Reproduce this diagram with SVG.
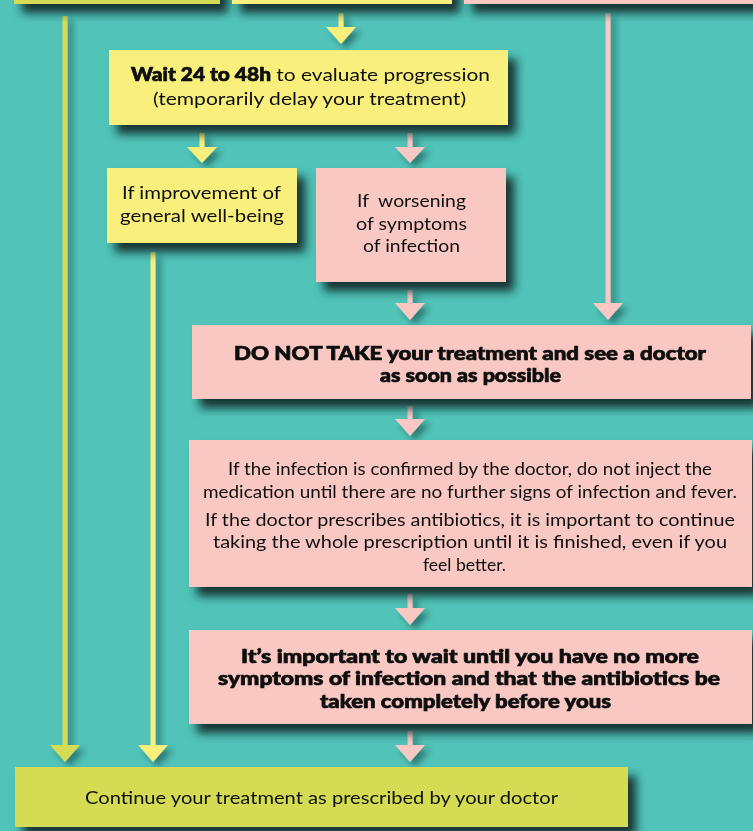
<svg xmlns="http://www.w3.org/2000/svg" width="753" height="831" viewBox="0 0 753 831">
<defs>
<filter id="sh" x="-20%" y="-20%" width="150%" height="160%">
<feDropShadow dx="8" dy="9" stdDeviation="5" flood-color="#0d2221" flood-opacity="0.9"/>
</filter>
<filter id="shl" x="-200%" y="-5%" width="500%" height="115%">
<feDropShadow dx="5" dy="5" stdDeviation="3" flood-color="#0d2221" flood-opacity="0.45"/>
</filter>
</defs>
<style>
.y{fill:#f9ef7b}
.p{fill:#f9c8c3}
.l{fill:#d5db52}
text{font-family:Lato,"Open Sans","Liberation Sans",sans-serif;font-size:18px;fill:#111;text-anchor:middle}
.b{font-weight:900;stroke:#111;stroke-width:0.7}
</style>
<rect x="0" y="0" width="753" height="831" fill="#51c3b8"/>

<g id="connectors" filter="url(#shl)">
<g class="y">
<path d="M338.5 13h5v14h12.5l-15 17l-15-17h12.5z"/>
<path d="M199.5 133h5v14h12.5l-15 16l-15-16h12.5z"/>
<path d="M150.5 252h5v493h12.5l-15 17l-15-17h12.5z"/>
</g>
<g class="l">
<path d="M62.5 16h5v729h12.5l-15 17l-15-17h12.5z"/>
</g>
<g class="p">
<path d="M407.5 133h5v14h12.5l-15 16l-15-16h12.5z"/>
<path d="M407.5 290h5v13h12.5l-15 17l-15-17h12.5z"/>
<path d="M605.5 13h5v290h12.5l-15 17l-15-17h12.5z"/>
<path d="M407.5 406h5v13h12.5l-15 17l-15-17h12.5z"/>
<path d="M407.5 594h5v14h12.5l-15 17l-15-17h12.5z"/>
<path d="M407.5 731h5v14h12.5l-15 17l-15-17h12.5z"/>
</g>
</g>

<g id="top-left" filter="url(#sh)"><rect class="l" x="14" y="-40" width="206" height="44"/></g>
<g id="top-middle" filter="url(#sh)"><rect class="y" x="232" y="-40" width="220" height="44"/></g>
<g id="top-right" filter="url(#sh)"><rect class="p" x="464" y="-40" width="300" height="44"/></g>

<g id="wait" filter="url(#sh)">
<rect class="y" x="109" y="50" width="399" height="75"/>
<text x="310.5" y="81" textLength="359" lengthAdjust="spacingAndGlyphs"><tspan class="b">Wait 24 to 48h</tspan> to evaluate progression</text>
<text x="309.5" y="105" textLength="313" lengthAdjust="spacingAndGlyphs">(temporarily delay your treatment)</text>
</g>

<g id="improvement" filter="url(#sh)">
<rect class="y" x="107" y="168" width="190" height="75"/>
<text x="201.5" y="199" textLength="159" lengthAdjust="spacingAndGlyphs">If improvement of</text>
<text x="202" y="222" textLength="164" lengthAdjust="spacingAndGlyphs">general well-being</text>
</g>

<g id="worsening" filter="url(#sh)">
<rect class="p" x="316" y="168" width="190" height="114"/>
<text x="411.5" y="207" textLength="109" lengthAdjust="spacingAndGlyphs" xml:space="preserve">If  worsening</text>
<text x="411.5" y="230" textLength="111" lengthAdjust="spacingAndGlyphs">of symptoms</text>
<text x="411.5" y="252" textLength="97" lengthAdjust="spacingAndGlyphs">of infection</text>
</g>

<g id="donottake" filter="url(#sh)">
<rect class="p" x="192" y="325" width="559" height="74"/>
<text class="b" x="470" y="360" textLength="472" lengthAdjust="spacingAndGlyphs">DO NOT TAKE your treatment and see a doctor</text>
<text class="b" x="470.5" y="382" textLength="181" lengthAdjust="spacingAndGlyphs">as soon as possible</text>
</g>

<g id="infection" filter="url(#sh)">
<rect class="p" x="189" y="440" width="563" height="147"/>
<text x="470" y="475" textLength="484" lengthAdjust="spacingAndGlyphs">If the infection is confirmed by the doctor, do not inject the</text>
<text x="470" y="498" textLength="534" lengthAdjust="spacingAndGlyphs">medication until there are no further signs of infection and fever.</text>
<text x="470" y="526" textLength="530" lengthAdjust="spacingAndGlyphs">If the doctor prescribes antibiotics, it is important to continue</text>
<text x="470" y="548" textLength="514" lengthAdjust="spacingAndGlyphs">taking the whole prescription until it is finished, even if you</text>
<text x="464.5" y="571" textLength="83" lengthAdjust="spacingAndGlyphs">feel better.</text>
</g>

<g id="important" filter="url(#sh)">
<rect class="p" x="189" y="630" width="563" height="94"/>
<text class="b" x="470" y="663" textLength="458" lengthAdjust="spacingAndGlyphs">It’s important to wait until you have no more</text>
<text class="b" x="469" y="685" textLength="502" lengthAdjust="spacingAndGlyphs">symptoms of infection and that the antibiotics be</text>
<text class="b" x="465.5" y="708" textLength="291" lengthAdjust="spacingAndGlyphs">taken completely before yous</text>
</g>

<g id="continue" filter="url(#sh)">
<rect class="l" x="15" y="767" width="613" height="60"/>
<text x="321.5" y="804" textLength="473" lengthAdjust="spacingAndGlyphs">Continue your treatment as prescribed by your doctor</text>
</g>
</svg>
